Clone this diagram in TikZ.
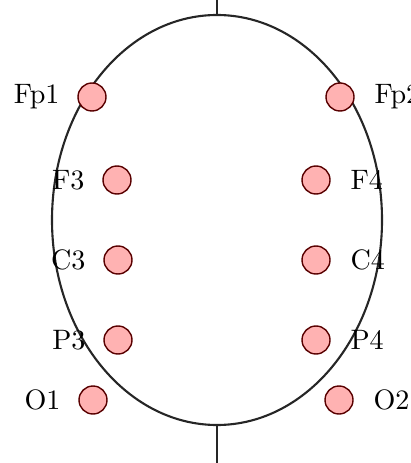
\documentclass[tikz,border=0pt]{standalone}
\begin{document}
\begin{tikzpicture}[x=0.356pt,y=-0.356pt,
  electrode/.style={circle,draw=red!35!black,fill=red!30,line width=0.5pt,minimum size=28*0.356pt,inner sep=0pt},
  lbl/.style={inner sep=0pt,font=\normalsize},
  head/.style={line width=0.75pt,draw=black!85}]
\useasboundingbox (0,0) rectangle (410,463);
\draw[head] (217,220) ellipse [x radius=165, y radius=205];
\coordinate (top) at (217,15);
\coordinate (topend) at (217,0);
\coordinate (bot) at (217,425);
\coordinate (botend) at (217,463);
\draw[head] (topend) -- (top);
\draw[head] (bot) -- (botend);
\node[electrode] (fp1) at (92,97) {};
\node[electrode] (fp2) at (340,97) {};
\node[electrode] (f3) at (117,180) {};
\node[electrode] (f4) at (316,180) {};
\node[electrode] (c3) at (118,260) {};
\node[electrode] (c4) at (316,260) {};
\node[electrode] (p3) at (118,340) {};
\node[electrode] (p4) at (316,340) {};
\node[electrode] (o1) at (93,400) {};
\node[electrode] (o2) at (339,400) {};
\node[lbl,anchor=east] (lfp1) at (60,97) {Fp1};
\node[lbl,anchor=west] (lfp2) at (374,97) {Fp2};
\node[lbl,anchor=east] (lf3) at (85,180) {F3};
\node[lbl,anchor=west] (lf4) at (350,180) {F4};
\node[lbl,anchor=east] (lc3) at (86,260) {C3};
\node[lbl,anchor=west] (lc4) at (350,260) {C4};
\node[lbl,anchor=east] (lp3) at (86,340) {P3};
\node[lbl,anchor=west] (lp4) at (350,340) {P4};
\node[lbl,anchor=east] (lo1) at (61,400) {O1};
\node[lbl,anchor=west] (lo2) at (373,400) {O2};
\end{tikzpicture}
\end{document}
